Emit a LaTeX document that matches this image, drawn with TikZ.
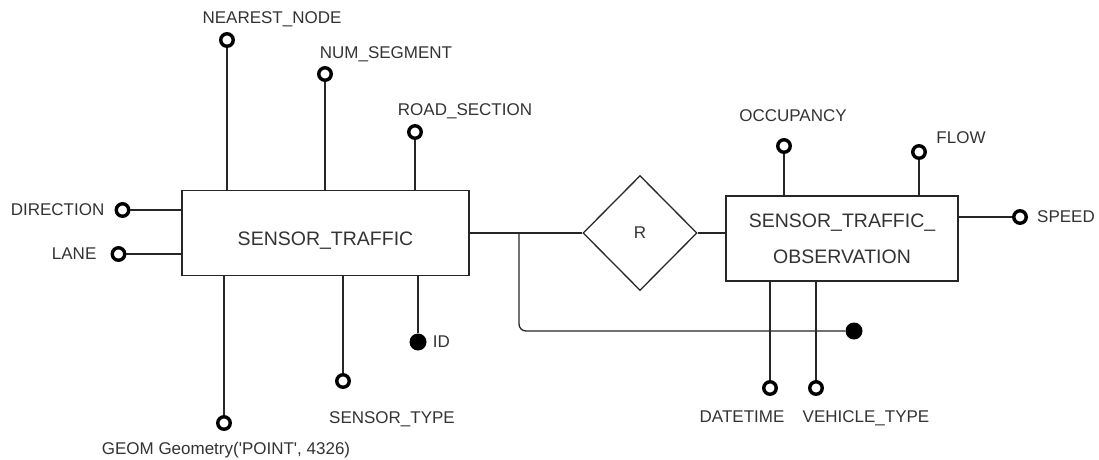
\documentclass[tikz,border=0pt]{standalone}
\usepackage{fontspec}
\setmainfont[Ligatures=TeXOff]{Liberation Sans}
\usepackage{tikz}
\usetikzlibrary{positioning,shapes.geometric}

\begin{document}
\begin{tikzpicture}[
  x=1pt, y=-1pt,
  every node/.style={font=\fontsize{17}{20}\selectfont, text=black!80},
  entity/.style={draw=black!85, line width=1.3pt, rectangle, inner sep=0pt,
                 font=\fontsize{19.5}{36}\selectfont, align=center},
  rel/.style={draw=black!85, line width=1.3pt, diamond, inner sep=0pt,
              minimum width=114pt, minimum height=115pt},
  attr/.style={circle, draw=black, line width=3.4pt, fill=white,
               minimum size=12.5pt, inner sep=0pt},
  key/.style={circle, fill=black, minimum size=17pt, inner sep=0pt},
  lbl/.style={inner sep=0pt, anchor=base},
  conn/.style={draw=black!85, line width=1.3pt}
]
\useasboundingbox (0,0) rectangle (1099,459);

%% Entities and relationship
\node[entity, minimum width=287pt, minimum height=85pt,
      text height=24pt, text depth=0pt] (st) at (325.5,233) {SENSOR\_TRAFFIC};
\node[entity, minimum width=232pt, minimum height=85pt] (sto) at (842,238.5)
      {SENSOR\_TRAFFIC\_\\OBSERVATION};
\node[rel] (rel) at (640,233) {R};
\coordinate (split) at (519,233);

%% Attributes of SENSOR_TRAFFIC
\node[attr] (cnear) at (227,40) {};
\node[attr] (cnum) at (325,74) {};
\node[attr] (croad) at (415,132) {};
\node[attr] (cdir) at (122.5,210) {};
\node[attr] (clane) at (118.5,254) {};
\node[attr] (cgeom) at (224,423) {};
\node[attr] (ctype) at (343,381) {};
\node[key] (kid) at (418,342) {};

\node[lbl] (lnear) at (272,23) {NEAREST\_NODE};
\node[lbl] (lnum) at (386,58) {NUM\_SEGMENT};
\node[lbl] (lroad) at (465,115) {ROAD\_SECTION};
\node[left=10pt of cdir, inner sep=0pt] (ldir) {DIRECTION};
\node[left=14pt of clane, inner sep=0pt] (llane) {LANE};
\node[lbl] (lgeom) at (226,454) {GEOM Geometry('POINT', 4326)};
\node[lbl] (ltype) at (392,423) {SENSOR\_TYPE};
\node[right=6pt of kid, inner sep=0pt] (lid) {ID};

\draw[conn] (cnear) -- (cnear |- st.north);
\draw[conn] (cnum) -- (cnum |- st.north);
\draw[conn] (croad) -- (croad |- st.north);
\draw[conn] (cdir) -- (cdir -| st.west);
\draw[conn] (clane) -- (clane -| st.west);
\draw[conn] (cgeom) -- (cgeom |- st.south);
\draw[conn] (ctype) -- (ctype |- st.south);
\draw[conn] (kid) -- (kid |- st.south);

%% Attributes of SENSOR_TRAFFIC_OBSERVATION
\node[attr] (cocc) at (784,146) {};
\node[attr] (cflow) at (919,152) {};
\node[attr] (cspeed) at (1020,217) {};
\node[attr] (cdate) at (770,388) {};
\node[attr] (cveh) at (816,388) {};
\node[key] (kobs) at (854,331) {};

\node[lbl] (locc) at (793,121) {OCCUPANCY};
\node[lbl] (lflow) at (961,143) {FLOW};
\node[right=9pt of cspeed, inner sep=0pt] (lspeed) {SPEED};
\node[lbl] (ldate) at (742,422) {DATETIME};
\node[lbl] (lveh) at (866,422) {VEHICLE\_TYPE};

\draw[conn] (cocc) -- (cocc |- sto.north);
\draw[conn] (cflow) -- (cflow |- sto.north);
\draw[conn] (cspeed) -- (cspeed -| sto.east);
\draw[conn] (cdate) -- (cdate |- sto.south);
\draw[conn] (cveh) -- (cveh |- sto.south);

%% Relationship links
\draw[conn] (st.east) -- (rel.west);
\draw[conn] (rel.east) -- (rel.east -| sto.west);
\draw[conn, rounded corners=7pt] (split) |- (kobs);

\end{tikzpicture}
\end{document}
